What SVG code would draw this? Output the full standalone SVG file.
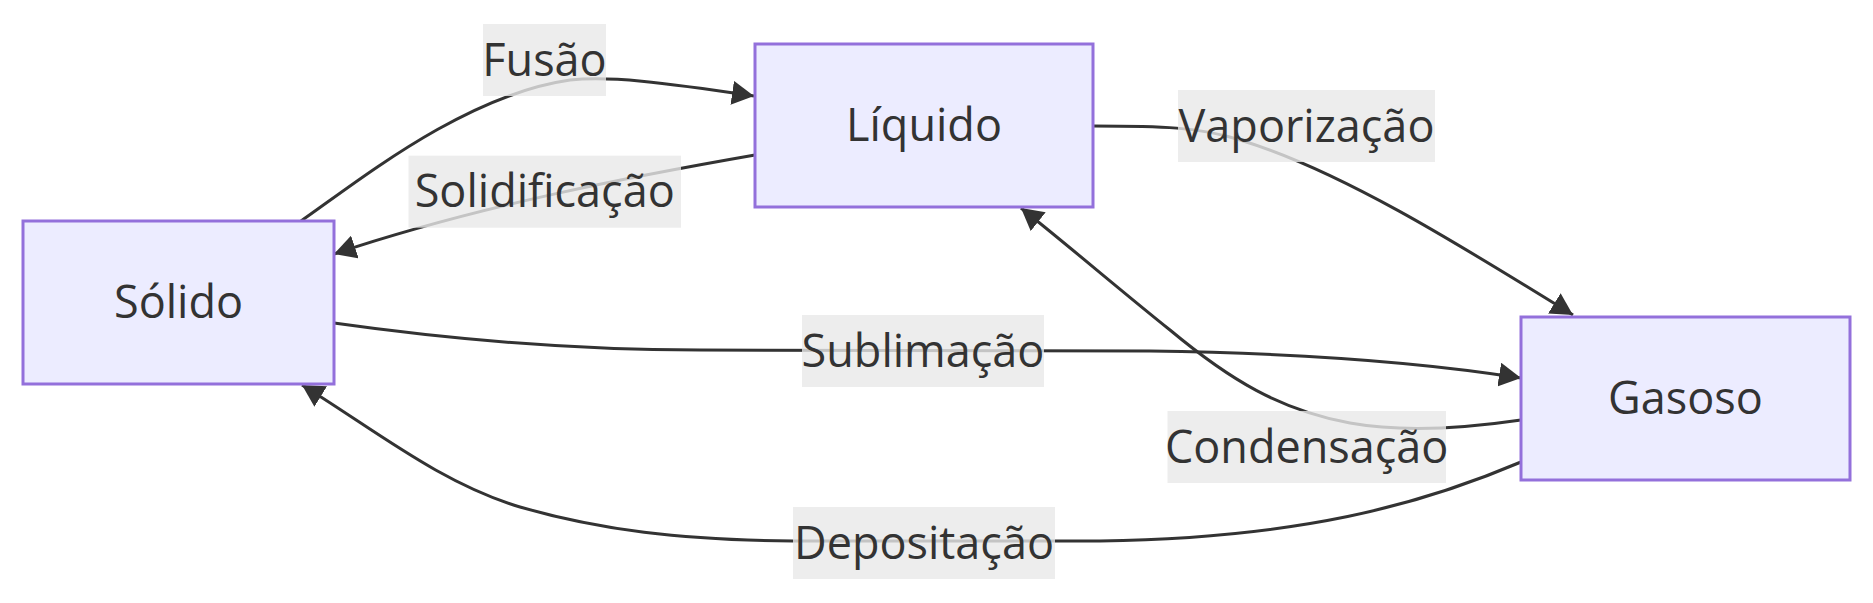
<svg xmlns="http://www.w3.org/2000/svg" width="1873" height="603" viewBox="0 0 1873 603">
<style>
.node rect{fill:#ECECFF;stroke:#9370DB;stroke-width:3}
.node text{font-family:"Open Sans","Liberation Sans",sans-serif;font-size:45px;fill:#333333;text-anchor:middle}
.edge{fill:none;stroke:#333333;stroke-width:3}
.lbl rect{fill:#e8e8e8;fill-opacity:0.8}
.lbl text{font-family:"Open Sans","Liberation Sans",sans-serif;font-size:45px;fill:#333333;text-anchor:middle}
</style>
<defs>
<marker id="arrow" viewBox="0 0 10 10" refX="10" refY="5" markerUnits="userSpaceOnUse" markerWidth="22" markerHeight="24" preserveAspectRatio="none" orient="auto">
<path d="M0,0 L10,5 L0,10 z" fill="#333333"/>
</marker>
</defs>
<rect width="1873" height="603" fill="#ffffff"/>
<g id="connectors">
<path class="edge" marker-end="url(#arrow)" d="M301,221 C360,180 465,95 570,80 C610,76 660,82 754,96"/>
<path class="edge" marker-end="url(#arrow)" d="M755,155 C640,175 480,205 334,254"/>
<path class="edge" marker-end="url(#arrow)" d="M1093,126 C1160,126 1200,127 1240,140 C1340,170 1460,245 1573,315"/>
<path class="edge" marker-end="url(#arrow)" d="M334,323 C440,338 560,350 700,350 L1150,351 C1300,353 1420,362 1521,378"/>
<path class="edge" marker-end="url(#arrow)" d="M1521,420 C1460,429 1400,432 1350,423 C1280,410 1230,380 1170,330 C1120,290 1070,247 1021,208"/>
<path class="edge" marker-end="url(#arrow)" d="M1521,462 C1420,505 1300,538 1100,541 L793,541 C680,540 600,530 520,507 C440,483 375,430 302,385"/>
</g>
<g id="edge-labels">
<g class="lbl" id="label-fusao"><rect x="483" y="24" width="123" height="72"/><text x="544.5" y="75.5">Fusão</text></g>
<g class="lbl" id="label-solidificacao"><rect x="408.5" y="155.7" width="272.5" height="72"/><text x="544.7" y="207.2">Solidificação</text></g>
<g class="lbl" id="label-vaporizacao"><rect x="1178" y="90" width="257" height="72"/><text x="1306.5" y="141.5">Vaporização</text></g>
<g class="lbl" id="label-sublimacao"><rect x="802" y="315" width="242" height="72"/><text x="923" y="366.5">Sublimação</text></g>
<g class="lbl" id="label-condensacao"><rect x="1167.5" y="411" width="278.5" height="72"/><text x="1306.7" y="462.5">Condensação</text></g>
<g class="lbl" id="label-depositacao"><rect x="793" y="507" width="262" height="72"/><text x="924" y="558.5">Depositação</text></g>
</g>
<g class="node" id="solido"><rect x="23" y="221" width="311" height="163"/><text x="178.5" y="318">Sólido</text></g>
<g class="node" id="liquido"><rect x="755" y="44" width="338" height="163"/><text x="924" y="141">Líquido</text></g>
<g class="node" id="gasoso"><rect x="1521" y="317" width="329" height="163"/><text x="1685.5" y="414">Gasoso</text></g>
</svg>
